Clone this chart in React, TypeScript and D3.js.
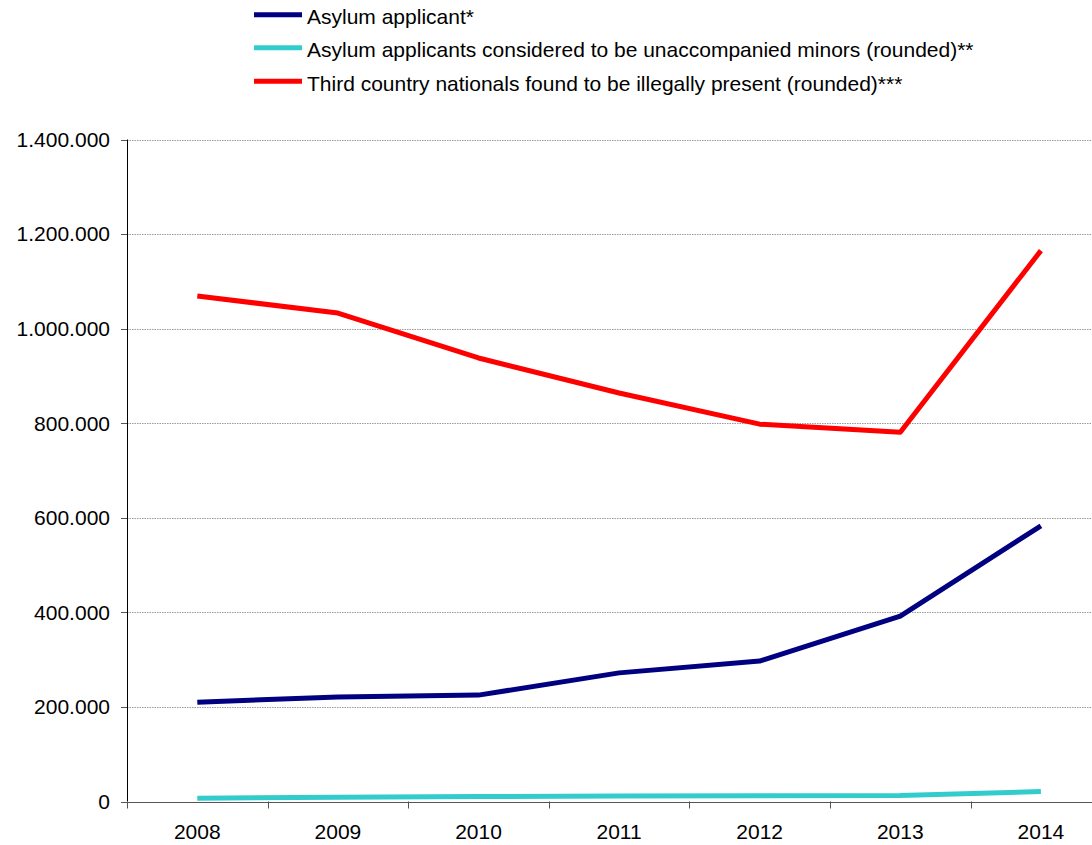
import React, { useEffect, useRef } from "react";
import * as d3 from "d3";

const years = ["2008", "2009", "2010", "2011", "2012", "2013", "2014"];
const asylumApplicants = [210000, 221000, 225000, 272000, 297000, 392000, 583000];
const unaccompaniedMinors = [7000, 9000, 10500, 11500, 12000, 12500, 21000];
const illegallyPresent = [1069000, 1033000, 938000, 864000, 798000, 781000, 1165000];
const yTicks = [0, 200000, 400000, 600000, 800000, 1000000, 1200000, 1400000];

const seriesNames = [
  "Asylum applicant*",
  "Asylum applicants considered to be unaccompanied minors (rounded)**",
  "Third country nationals found to be illegally present (rounded)***",
];
const seriesColors = ["#000080", "#33CCCC", "#FF0000"];

const W = 1092;
const H = 845;

export default function App() {
  const ref = useRef<SVGSVGElement>(null);

  useEffect(() => {
    const svg = d3.select(ref.current);
    svg.selectAll("*").remove();

    const left = 127;
    const step = 140.6;
    const x = d3.scaleBand<string>().domain(years).range([left, left + step * years.length]);
    const y = d3.scaleLinear().domain([0, 1400000]).range([801.5, 139.5]);
    const font = "'Liberation Sans', Arial, sans-serif";
    const fs = 21;
    const fmt = (v: number) => (v === 0 ? "0" : d3.format(",")(v).replace(/,/g, "."));

    // gridlines
    svg
      .append("g")
      .selectAll("line")
      .data(yTicks.filter((t) => t > 0))
      .join("line")
      .attr("x1", left)
      .attr("x2", W)
      .attr("y1", (d) => Math.round(y(d)) + 0.5)
      .attr("y2", (d) => Math.round(y(d)) + 0.5)
      .attr("stroke", "#9a9a9a")
      .attr("stroke-width", 1)
      .attr("stroke-dasharray", "1.5 1");

    // y axis
    svg
      .append("line")
      .attr("x1", left + 0.5)
      .attr("x2", left + 0.5)
      .attr("y1", y(1400000))
      .attr("y2", y(0))
      .attr("stroke", "#000")
      .attr("stroke-width", 1);
    svg
      .append("g")
      .selectAll("line")
      .data(yTicks)
      .join("line")
      .attr("x1", left - 6)
      .attr("x2", left)
      .attr("y1", (d) => Math.round(y(d)) + 0.5)
      .attr("y2", (d) => Math.round(y(d)) + 0.5)
      .attr("stroke", "#555");
    svg
      .append("g")
      .selectAll("text")
      .data(yTicks)
      .join("text")
      .attr("x", 110)
      .attr("y", (d) => y(d))
      .attr("dy", "0.35em")
      .attr("text-anchor", "end")
      .attr("font-family", font)
      .attr("font-size", fs)
      .attr("fill", "#000")
      .text((d) => fmt(d));

    // x axis
    svg
      .append("line")
      .attr("x1", left)
      .attr("x2", W)
      .attr("y1", Math.round(y(0)) + 0.5)
      .attr("y2", Math.round(y(0)) + 0.5)
      .attr("stroke", "#555")
      .attr("stroke-width", 1.2);
    const boundaries = years.map((yr) => x(yr) as number);
    svg
      .append("g")
      .selectAll("line")
      .data(boundaries)
      .join("line")
      .attr("x1", (d) => Math.round(d) + 0.5)
      .attr("x2", (d) => Math.round(d) + 0.5)
      .attr("y1", y(0))
      .attr("y2", y(0) + 7)
      .attr("stroke", "#555");
    svg
      .append("g")
      .selectAll("text")
      .data(years)
      .join("text")
      .attr("x", (d) => (x(d) as number) + x.bandwidth() / 2)
      .attr("y", 839)
      .attr("text-anchor", "middle")
      .attr("font-family", font)
      .attr("font-size", fs)
      .attr("fill", "#000")
      .text((d) => d);

    // lines
    const allSeries = [asylumApplicants, unaccompaniedMinors, illegallyPresent];
    const line = d3
      .line<number>()
      .x((_, i) => (x(years[i]) as number) + x.bandwidth() / 2)
      .y((d) => y(d));
    allSeries.forEach((vals, i) => {
      svg
        .append("path")
        .datum(vals)
        .attr("d", line)
        .attr("fill", "none")
        .attr("stroke", seriesColors[i])
        .attr("stroke-width", 5)
        .attr("stroke-linejoin", "round");
    });

    // legend
    const legendY = [14.7, 47.7, 81.2];
    const lg = svg.append("g");
    seriesNames.forEach((name, i) => {
      lg.append("line")
        .attr("x1", 254)
        .attr("x2", 302)
        .attr("y1", legendY[i])
        .attr("y2", legendY[i])
        .attr("stroke", seriesColors[i])
        .attr("stroke-width", 5);
      lg.append("text")
        .attr("x", 307)
        .attr("y", legendY[i] + 9.3)
        .attr("font-family", font)
        .attr("font-size", fs)
        .attr("fill", "#000")
        .text(name);
    });
  }, []);

  return (
    <svg
      ref={ref}
      width={W}
      height={H}
      style={{ position: "absolute", left: 0, top: 0, background: "#fff" }}
    />
  );
}
